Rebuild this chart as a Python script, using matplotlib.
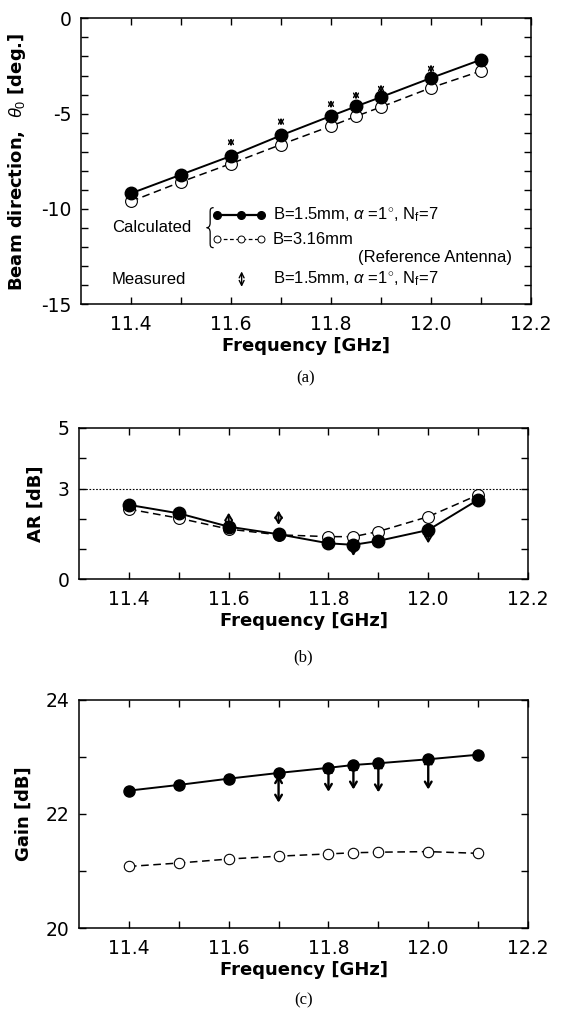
#!/usr/bin/env python
# -*- coding: utf-8 -*-

import numpy as np
import matplotlib
matplotlib.use("Agg")
import matplotlib.pyplot as plt
from matplotlib.path import Path
from matplotlib.patches import PathPatch

plt.rcParams["font.family"] = "DejaVu Sans"
plt.rcParams["mathtext.fontset"] = "custom"
plt.rcParams["mathtext.rm"] = "Liberation Sans"
plt.rcParams["mathtext.it"] = "Liberation Sans:italic"
plt.rcParams["mathtext.bf"] = "Liberation Sans:bold"

# -- frequencies of the calculated points [GHz]
freq = [11.4, 11.5, 11.6, 11.7, 11.8, 11.85, 11.9, 12.0, 12.1]

# -- (a) beam direction [deg.]
beam_calc = [-9.18, -8.20, -7.22, -6.14, -5.12, -4.62, -4.13, -3.13, -2.17]
beam_ref  = [-9.60, -8.58, -7.62, -6.62, -5.65, -5.14, -4.65, -3.64, -2.76]
beam_meas_f  = [11.6, 11.7, 11.8, 11.85, 11.9, 12.0]
beam_meas_lo = [-6.72, -5.63, -4.72, -4.26, -3.91, -2.86]
beam_meas_hi = [-6.28, -5.21, -4.28, -3.82, -3.47, -2.42]

# -- (b) axial ratio [dB]
ar_calc = [2.46, 2.18, 1.74, 1.49, 1.19, 1.14, 1.27, 1.63, 2.63]
ar_ref  = [2.32, 2.02, 1.66, 1.47, 1.41, 1.41, 1.58, 2.07, 2.79]
ar_meas_f  = [11.6, 11.7, 11.85, 11.9, 12.0]
ar_meas_lo = [1.70, 1.80, 0.77, 1.15, 1.19]
ar_meas_hi = [2.20, 2.27, 1.24, 1.45, 1.73]

# -- (c) gain [dB]
gain_calc = [22.41, 22.51, 22.62, 22.72, 22.81, 22.86, 22.89, 22.96, 23.04]
gain_ref  = [21.08, 21.14, 21.21, 21.26, 21.30, 21.32, 21.33, 21.34, 21.31]
gain_meas_f  = [11.7, 11.8, 11.85, 11.9, 12.0]
gain_meas_lo = [22.20, 22.39, 22.43, 22.38, 22.43]
gain_meas_hi = [22.68, 22.86, 22.91, 22.94, 23.01]

xticks  = [11.4, 11.5, 11.6, 11.7, 11.8, 11.9, 12.0, 12.1, 12.2]
xlabels = ["11.4", "", "11.6", "", "11.8", "", "12.0", "", "12.2"]

lab_font  = dict(family="DejaVu Sans", weight="bold", size=13)
leg_font  = dict(family="Liberation Sans", size=12)
capt_font = dict(family="Liberation Serif", size=12)


def style_axes(ax, ylim, yticks, ylabels, ylabel):
    ax.set_xlim(11.3, 12.2)
    ax.set_ylim(*ylim)
    ax.set_xticks(xticks)
    ax.set_xticklabels(xlabels)
    ax.set_yticks(yticks)
    ax.set_yticklabels(ylabels)
    ax.tick_params(direction="in", length=5, width=1.0, top=True, right=True,
                   labelsize=13.5, pad=8)
    ax.tick_params(axis="y", pad=7)
    for sp in ax.spines.values():
        sp.set_linewidth(1.1)
    ax.set_xlabel("Frequency [GHz]", labelpad=2, **lab_font)
    ax.set_ylabel(ylabel, labelpad=9, **lab_font)


def plot_pair(ax, calc, ref, ms_f=8.5, ms_o=8):
    ax.plot(freq, ref, ls=(0, (5, 3)), color="black", lw=1.1, marker="o",
            ms=ms_o, mfc="white", mec="black", mew=0.8, zorder=2)
    ax.plot(freq, calc, ls="-", color="black", lw=1.4, marker="o",
            ms=ms_f, mfc="black", mec="black", zorder=4)


def plot_meas(ax, f, lo, hi, scale, lw, hw=0.3):
    for x, a, b in zip(f, lo, hi):
        ax.annotate("", xy=(x, b), xytext=(x, a),
                    arrowprops=dict(arrowstyle="<->,head_length=0.5,head_width=%g" % hw,
                                    mutation_scale=scale, lw=lw, color="black",
                                    shrinkA=0, shrinkB=0), zorder=3)


def brace(ax, xc, yc, h_px, w_px, ax_w_px, ax_h_px):
    # -- left-pointing curly brace in axes coordinates
    sx, sy = 1.0 / ax_w_px, 1.0 / ax_h_px
    H, W = h_px / 2.0, w_px
    pts = [(W / 2, H), (0, H), (0, H - 2), (0, H - 5),
           (0, 5), (0, 1), (-W / 4, 0), (-W / 2, 0),
           (-W / 4, 0), (0, -1), (0, -5),
           (0, -H + 5), (0, -H + 2), (0, -H), (W / 2, -H)]
    codes = [Path.MOVETO, Path.CURVE4, Path.CURVE4, Path.CURVE4,
             Path.LINETO, Path.CURVE4, Path.CURVE4, Path.CURVE4,
             Path.CURVE4, Path.CURVE4, Path.CURVE4,
             Path.LINETO, Path.CURVE4, Path.CURVE4, Path.CURVE4]
    verts = [(xc + px * sx, yc + py * sy) for px, py in pts]
    ax.add_patch(PathPatch(Path(verts, codes), fill=False, lw=0.9,
                           edgecolor="black", transform=ax.transAxes,
                           clip_on=False))


fig = plt.figure(figsize=(5.64, 10.13), dpi=100)

# -- (a) beam direction
ax1 = fig.add_axes([0.1436, 0.6996, 0.7979, 0.2823])
plot_pair(ax1, beam_calc, beam_ref, ms_f=9, ms_o=8.5)
plot_meas(ax1, beam_meas_f, beam_meas_lo, beam_meas_hi, scale=7, lw=1.0, hw=0.25)
style_axes(ax1, (-15, 0), np.arange(-15, 1, 1),
           ["-15" if v == -15 else "-10" if v == -10 else "-5" if v == -5
            else "0" if v == 0 else "" for v in range(-15, 1)],
           r"Beam direction,  $\theta_0$ [deg.]")

# -- legend block for (a)
tr = ax1.transAxes
ax1.text(0.069, 0.268, "Calculated", transform=tr, va="center", ha="left", **leg_font)
brace(ax1, 0.287, 0.268, 40, 7, 450, 286)
ax1.plot([0.303, 0.356, 0.399], [0.312] * 3, transform=tr, color="black",
         lw=1.6, marker="o", ms=5.5, mfc="black", clip_on=False)
ax1.plot([0.303, 0.356, 0.399], [0.227] * 3, transform=tr, color="black",
         lw=0.9, ls=(0, (3, 2)), marker="o", ms=5, mfc="white", mew=0.7,
         clip_on=False)
ax1.text(0.426, 0.312, r"B=1.5mm, $\alpha$ =1$^{\circ}$, N$_\mathrm{f}$=7",
         transform=tr, va="center", ha="left", **leg_font)
ax1.text(0.426, 0.227, "B=3.16mm", transform=tr, va="center", ha="left", **leg_font)
ax1.text(0.957, 0.164, "(Reference Antenna)", transform=tr, va="center",
         ha="right", **leg_font)
ax1.text(0.069, 0.088, "Measured", transform=tr, va="center", ha="left", **leg_font)
ax1.annotate("", xy=(0.357, 0.115), xytext=(0.357, 0.061), xycoords=tr,
             textcoords=tr,
             arrowprops=dict(arrowstyle="<->,head_length=0.5,head_width=0.25",
                             mutation_scale=7, lw=1.0, color="black",
                             shrinkA=0, shrinkB=0))
ax1.text(0.426, 0.088, r"B=1.5mm, $\alpha$ =1$^{\circ}$, N$_\mathrm{f}$=7",
         transform=tr, va="center", ha="left", **leg_font)

# -- (b) axial ratio
ax2 = fig.add_axes([0.1401, 0.4281, 0.7961, 0.1494])
ax2.axhline(3, color="black", lw=0.8, ls=(0, (1.5, 1.5)), zorder=1)
plot_pair(ax2, ar_calc, ar_ref, ms_f=9, ms_o=8.5)
plot_meas(ax2, ar_meas_f, ar_meas_lo, ar_meas_hi, scale=8, lw=1.4)
style_axes(ax2, (0, 5), [0, 1, 2, 3, 4, 5], ["0", "", "", "3", "", "5"],
           "AR [dB]")

# -- (c) gain
ax3 = fig.add_axes([0.1401, 0.0839, 0.7961, 0.2251])
plot_pair(ax3, gain_calc, gain_ref, ms_f=8, ms_o=7.5)
plot_meas(ax3, gain_meas_f, gain_meas_lo, gain_meas_hi, scale=8, lw=1.7)
style_axes(ax3, (20, 24), [20, 21, 22, 23, 24], ["20", "", "22", "", "24"],
           "Gain [dB]")

# -- panel captions
for ax, lab, y in zip([ax1, ax2, ax3], ["(a)", "(b)", "(c)"],
                      [0.6269, 0.3514, 0.0128]):
    p = ax.get_position()
    fig.text(p.x0 + p.width / 2, y, lab, ha="center", va="center", **capt_font)

fig.savefig("out.png", dpi=100)
